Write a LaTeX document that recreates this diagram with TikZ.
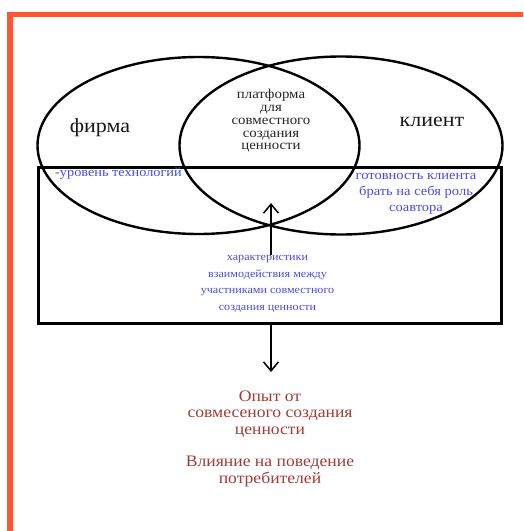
\documentclass[tikz,border=0pt]{standalone}
\usepackage{fontspec}
\setmainfont{Liberation Serif}[FakeStretch=1.1]
\usetikzlibrary{shapes.geometric,arrows.meta}
\definecolor{frameRed}{RGB}{255,85,51}
\definecolor{txtBlue}{RGB}{75,75,225}
\definecolor{txtRed}{RGB}{160,60,55}
\tikzset{
  vennell/.style={draw=black, line width=2.4pt, ellipse, inner sep=0pt},
  bigbox/.style={draw=black, line width=3pt, inner sep=0pt},
  bigword/.style={font=\fontsize{20}{24}\selectfont, text=black!90},
  platf/.style={font=\fontsize{13.5}{12.7}\selectfont, align=center, text=black!85},
  bluetxt/.style={text=txtBlue, align=center},
  redtxt/.style={text=txtRed, align=center, font=\fontsize{16}{16.5}\selectfont},
  arr/.style={line width=1.5pt, -{Straight Barb[length=9pt,width=15pt,line width=1.5pt]}}
}
\begin{document}
\begin{tikzpicture}[x=1pt,y=-1pt]
\useasboundingbox (0,0) rectangle (523,531);
\fill[white] (0,0) rectangle (523,531);
% frame
\draw[frameRed, line width=5.5pt] (10,531) -- (10,14.5) -- (523,14.5);
% ellipses
\node[vennell, minimum width=322pt, minimum height=177pt] (firm) at (198.5,145.5) {};
\node[vennell, minimum width=323pt, minimum height=178pt] (client) at (341,145.5) {};
% box
\node[bigbox, minimum width=463pt, minimum height=156pt] (box) at (269.5,245) {};
% texts
\node[bigword] (firmlbl) at (100,128) {фирма};
\node[bigword] (clientlbl) at (432,122) {клиент};
\node[platf] (platform) at (271,121) {платформа\\для\\совместного\\создания\\ценности};
\node[bluetxt, font=\fontsize{13}{15}\selectfont, anchor=west, inner sep=0pt] (tech) at (55,173) {-уровень технологий};
\node[bluetxt, font=\fontsize{13.2}{16}\selectfont] (ready) at (416,193.5) {готовность клиента\\брать на себя роль\\соавтора};
\node[bluetxt, font=\fontsize{11}{16.5}\selectfont] (chars) at (267.5,284) {характеристики\\взаимодействия между\\участниками совместного\\создания ценности};
\node[redtxt] (exp) at (270,414) {Опыт от\\совмесеного создания\\ценности};
\node[redtxt] (infl) at (270,471.5) {Влияние на поведение\\потребителей};
% arrows
\coordinate (upStart) at (271,255);
\coordinate (upEnd) at (271,203);
\coordinate (dnStart) at (271,323);
\coordinate (dnEnd) at (271,372);
\draw[arr] (upStart) -- (upEnd);
\draw[arr] (dnStart) -- (dnEnd);
\end{tikzpicture}
\end{document}
